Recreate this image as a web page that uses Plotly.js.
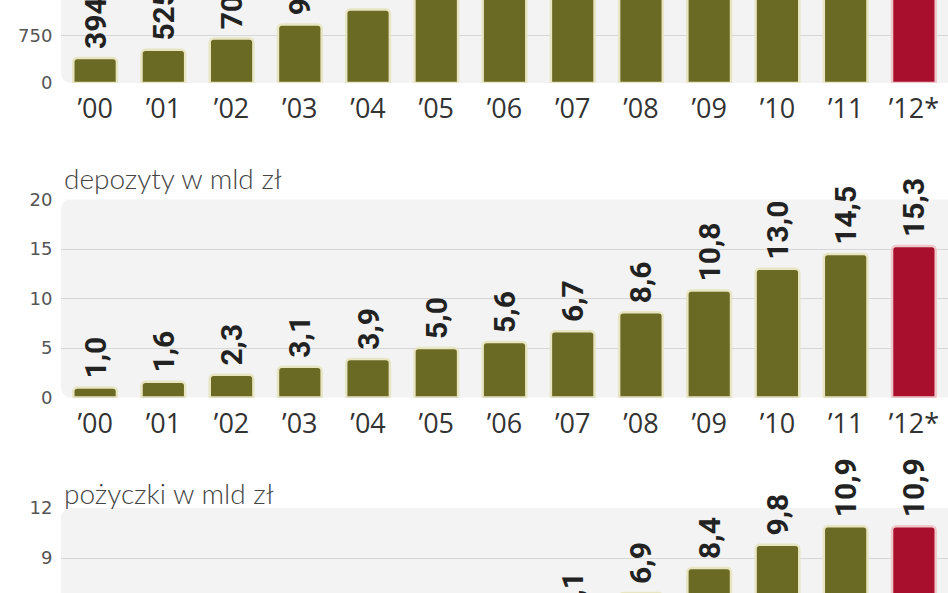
<!DOCTYPE html>
<html>
<head>
<meta charset="utf-8">
<script src="https://cdn.plot.ly/plotly-3.0.1.min.js"></script>
<style>
  html, body { margin: 0; padding: 0; width: 948px; height: 593px; overflow: hidden; background: #ffffff; }
  #chart { position: absolute; left: 0; top: -120px; width: 948px; height: 840px; }
</style>
</head>
<body>
<div id="chart"></div>
<script>
// ---- data ----
const categories = ['’00', '’01', '’02', '’03', '’04', '’05', '’06', '’07', '’08', '’09', '’10', '’11', '’12*'];
const members = [394, 525, 703, 924, 1160, 1400, 1610, 1780, 1960, 2150, 2330, 2480, 2600];
const deposits = [1.0, 1.6, 2.3, 3.1, 3.9, 5.0, 5.6, 6.7, 8.6, 10.8, 13.0, 14.5, 15.3];
const loans = [0.8, 1.2, 1.6, 2.1, 2.6, 3.2, 3.9, 5.1, 6.9, 8.4, 9.8, 10.9, 10.9];
const panelTitles = ['depozyty w mld zł', 'pożyczki w mld zł'];
const membersTicks = [0, 750, 1500, 2250, 3000];
const depositsTicks = [0, 5, 10, 15, 20];
const loansTicks = [0, 3, 6, 9, 12];

// ---- styles ----
const OLIVE = '#6a6a24', OLIVE_EDGE = '#e8e5c2';
const RED = '#a70f2c', RED_EDGE = '#f0c8cc';
const fills = categories.map(c => c.indexOf('*') >= 0 ? RED : OLIVE);
const edges = categories.map(c => c.indexOf('*') >= 0 ? RED_EDGE : OLIVE_EDGE);
const labelFont = { family: 'Roboto, "DejaVu Sans", sans-serif', size: 30, color: '#222222', weight: 'bold' };

function barTrace(values, xa, ya, fmt, name) {
  return {
    type: 'bar', name: name, x: categories, y: values, xaxis: xa, yaxis: ya,
    marker: { color: fills, line: { color: edges, width: 2.5 }, cornerradius: 4 },
    texttemplate: '\u2009' + fmt, textposition: 'outside', textangle: -90,
    constraintext: 'none', cliponaxis: false, textfont: labelFont,
    hoverinfo: 'skip'
  };
}

const data = [
  barTrace(members, 'x', 'y', '%{y:.0f}', 'członkowie'),
  barTrace(deposits, 'x2', 'y2', '%{y:.1f}', panelTitles[0]),
  barTrace(loans, 'x3', 'y3', '%{y:.1f}', panelTitles[1])
];

const H = 840;
const f = pageY => (H - (pageY + 120)) / H;

const xTickFont = { family: '"Open Sans", Lato, sans-serif', size: 27, color: '#333333' };
const yTickFont = { family: '"DejaVu Sans", sans-serif', size: 18, color: '#555555' };

function xAxis(anchor) {
  return {
    type: 'category', anchor: anchor, range: [-0.5, 12.5], showgrid: false, zeroline: false,
    showline: false, ticks: 'outside', ticklen: 2, tickcolor: 'rgba(0,0,0,0)', tickfont: xTickFont,
    fixedrange: true
  };
}
function yAxis(anchor, domain, range, tickvals) {
  return {
    anchor: anchor, domain: domain, range: range, tickvals: tickvals,
    showgrid: true, gridcolor: '#d6d6d6', gridwidth: 1, zeroline: false, showline: false,
    ticks: 'outside', ticklen: 4, tickcolor: 'rgba(0,0,0,0)', tickfont: yTickFont, fixedrange: true
  };
}

// rounded left corners of the grey panels (white cut-outs, pixel-sized)
const R = 10, K = 0.4477 * R;
function cornerShape(yPaper, top) {
  const s = top ? -1 : 1;
  return {
    type: 'path', layer: 'below', xref: 'paper', yref: 'paper',
    xsizemode: 'pixel', ysizemode: 'pixel', xanchor: 0, yanchor: yPaper,
    path: `M0,0 L${R},0 C${K},0 0,${s * K} 0,${s * R} Z`,
    fillcolor: '#ffffff', line: { width: 0 }
  };
}

const titleFont = { family: 'Lato, "Open Sans", sans-serif', size: 28, color: '#444444', weight: 300 };

const layout = {
  width: 948, height: H,
  margin: { l: 61, r: 0, t: 0, b: 0 },
  paper_bgcolor: '#ffffff', plot_bgcolor: '#f3f3f3',
  showlegend: false, bargap: 0.36, separators: ', ',
  xaxis: xAxis('y'), xaxis2: xAxis('y2'), xaxis3: xAxis('y3'),
  yaxis: yAxis('x', [f(83), 1], [0, 3205], membersTicks),
  yaxis2: yAxis('x2', [f(397.5), f(199.5)], [0, 20], depositsTicks),
  yaxis3: yAxis('x3', [f(708), f(508)], [0, 12], loansTicks),
  shapes: [
    cornerShape(f(83), false),
    cornerShape(f(199.5), true), cornerShape(f(397.5), false),
    cornerShape(f(508), true), cornerShape(f(708), false)
  ],
  annotations: [
    { text: panelTitles[0], xref: 'paper', yref: 'paper', x: 0.001, y: f(178), xanchor: 'left', yanchor: 'middle', showarrow: false, font: titleFont },
    { text: panelTitles[1], xref: 'paper', yref: 'paper', x: 0.001, y: f(493), xanchor: 'left', yanchor: 'middle', showarrow: false, font: titleFont }
  ]
};

Plotly.newPlot('chart', data, layout, { staticPlot: true, displayModeBar: false });
</script>
</body>
</html>
